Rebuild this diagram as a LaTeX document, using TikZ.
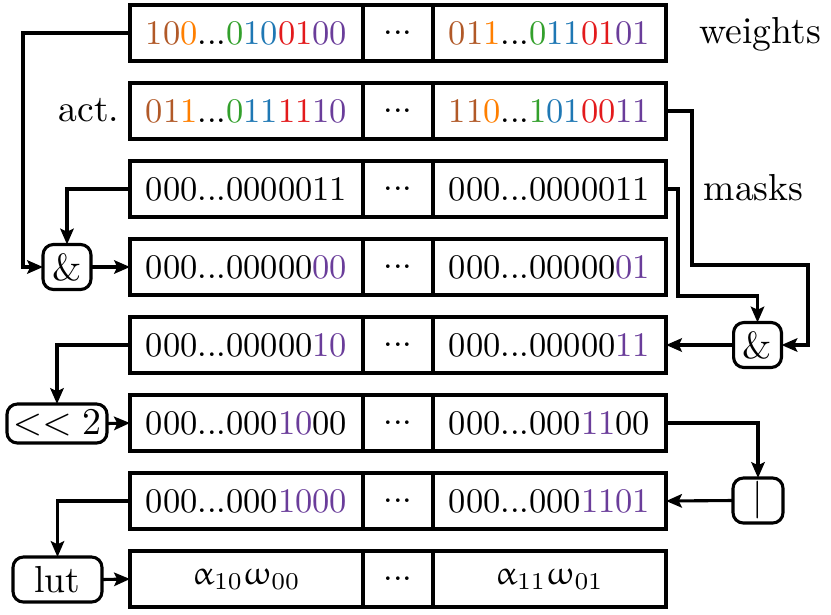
\documentclass[tikz,border=0pt]{standalone}
\usepackage{upgreek}
\usetikzlibrary{arrows.meta}
\definecolor{cbrown}{HTML}{B15928}
\definecolor{corange}{HTML}{FF7F00}
\definecolor{cgreen}{HTML}{33A02C}
\definecolor{cblue}{HTML}{1F78B4}
\definecolor{cred}{HTML}{E31A1C}
\definecolor{cpurple}{HTML}{6A3D9A}
\newcommand{\Cb}[1]{\textcolor{cbrown}{#1}}
\newcommand{\Co}[1]{\textcolor{corange}{#1}}
\newcommand{\Cg}[1]{\textcolor{cgreen}{#1}}
\newcommand{\Cl}[1]{\textcolor{cblue}{#1}}
\newcommand{\Cr}[1]{\textcolor{cred}{#1}}
\newcommand{\Cp}[1]{\textcolor{cpurple}{#1}}
\begin{document}
\begin{tikzpicture}[x=0.29pt,y=-0.29pt,
  cell/.style={draw,line width=0.9pt,inner sep=0pt,outer sep=0pt,minimum height=16.24pt,font=\fontsize{10}{12}\selectfont},
  wide/.style={cell,minimum width=67.57pt},
  mid/.style={cell,minimum width=20.3pt},
  greek/.style={font=\fontsize{9.6}{11}\selectfont},
  op/.style={draw,line width=0.9pt,rounded corners=3pt,inner sep=0pt,outer sep=0pt,font=\fontsize{10.9}{13}\selectfont},
  conn/.style={line width=0.9pt,-{Stealth[length=4.6pt,width=3.9pt,inset=0.9pt]}},
  lbl/.style={inner sep=0pt,font=\fontsize{10.9}{13}\selectfont}]
\useasboundingbox (0,0) rectangle (831,614);

% row 1
\node[wide] (L1) at (246.5,33) {\Cb{10}\Co{0}...\Cg{0}\Cl{10}\Cr{01}\Cp{00}};
\node[mid]  (M1) at (398,33) {...};
\node[wide] (R1) at (549.5,33) {\Cb{01}\Co{1}...\Cg{0}\Cl{11}\Cr{01}\Cp{01}};
% row 2
\node[wide] (L2) at (246.5,111) {\Cb{01}\Co{1}...\Cg{0}\Cl{11}\Cr{11}\Cp{10}};
\node[mid]  (M2) at (398,111) {...};
\node[wide] (R2) at (549.5,111) {\Cb{11}\Co{0}...\Cg{1}\Cl{01}\Cr{00}\Cp{11}};
% row 3
\node[wide] (L3) at (246.5,189) {000...0000011};
\node[mid]  (M3) at (398,189) {...};
\node[wide] (R3) at (549.5,189) {000...0000011};
% row 4
\node[wide] (L4) at (246.5,267) {000...00000\Cp{00}};
\node[mid]  (M4) at (398,267) {...};
\node[wide] (R4) at (549.5,267) {000...00000\Cp{01}};
% row 5
\node[wide] (L5) at (246.5,345) {000...00000\Cp{10}};
\node[mid]  (M5) at (398,345) {...};
\node[wide] (R5) at (549.5,345) {000...00000\Cp{11}};
% row 6
\node[wide] (L6) at (246.5,423) {000...000\Cp{10}00};
\node[mid]  (M6) at (398,423) {...};
\node[wide] (R6) at (549.5,423) {000...000\Cp{11}00};
% row 7
\node[wide] (L7) at (246.5,501) {000...000\Cp{1000}};
\node[mid]  (M7) at (398,501) {...};
\node[wide] (R7) at (549.5,501) {000...000\Cp{1101}};
% row 8
\node[wide,greek] (L8) at (246.5,579) {$\upalpha_{10}\upomega_{00}$};
\node[mid]  (M8) at (398,579) {...};
\node[wide,greek] (R8) at (549.5,579) {$\upalpha_{11}\upomega_{01}$};

% labels
\node[lbl,anchor=base west] (wlab) at (699,44) {weights};
\node[lbl,anchor=base east] (alab) at (120,122) {act.};
\node[lbl,anchor=base west] (mlab) at (703,200.5) {masks};

% operators
\node[op,minimum width=13.9pt,minimum height=13.05pt] (and1) at (67,267) {\&};
\node[op,minimum width=13.9pt,minimum height=13.05pt] (and2) at (757.5,345) {\&};
\node[op,minimum width=29pt,minimum height=11.3pt] (shl) at (57,423.5) {$<<2$};
\node[op,minimum width=14.5pt,minimum height=13.05pt] (orop) at (758,500.5) {$|$};
\node[op,minimum width=25.8pt,minimum height=13.05pt] (lut) at (57.5,579.5) {lut};

% helper coordinates
\coordinate (c1) at (23,33);
\coordinate (c4a) at (692,265);
\coordinate (c4b) at (808,265);
\coordinate (c5) at (678,296);

% connectors
\draw[conn] (L1.west) -- (c1) |- (and1.west);
\draw[conn] (L3.west) -| (and1.north);
\draw[conn] (and1.east) -- (L4.west);
\draw[conn] (R2.east) -| (c4a) -- (c4b) |- (and2.east);
\draw[conn] (R3.east) -| (c5) -| (and2.north);
\draw[conn] (and2.west) -- (R5.east);
\draw[conn] (L5.west) -| (shl.north);
\draw[conn] (shl.east) -- (L6.west);
\draw[conn] (R6.east) -| (orop.north);
\draw[conn] (orop.west) -- (R7.east);
\draw[conn] (L7.west) -| (lut.north);
\draw[conn] (lut.east) -- (L8.west);
\end{tikzpicture}
\end{document}
